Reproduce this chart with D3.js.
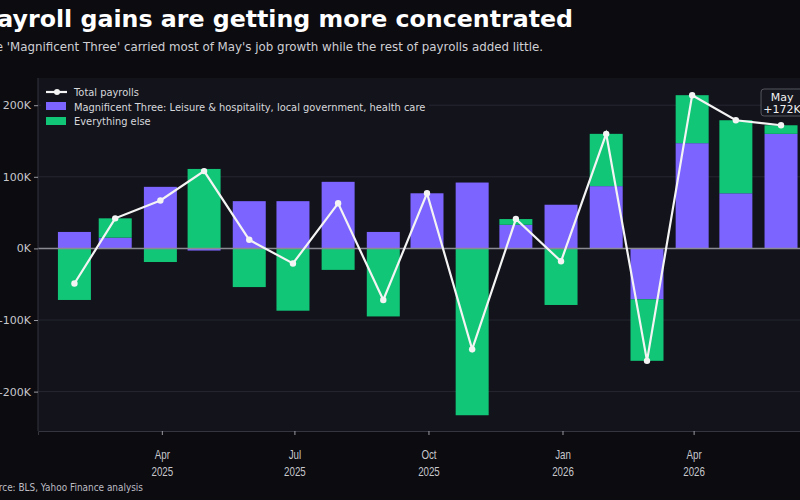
<!DOCTYPE html>
<html>
<head>
<meta charset="utf-8">
<script src="https://cdn.jsdelivr.net/npm/d3@7"></script>
<style>
  body { margin: 0; background: #0b0b10; }
  svg { display: block; font-family: "DejaVu Sans", sans-serif; }
</style>
</head>
<body>
<div id="chart"></div>
<script>
// month-end dates, values in thousands of jobs
const months = ["2025-01-31", "2025-02-28", "2025-03-31", "2025-04-30", "2025-05-31", "2025-06-30",
    "2025-07-31", "2025-08-31", "2025-09-30", "2025-10-31", "2025-11-30", "2025-12-31",
    "2026-01-31", "2026-02-28", "2026-03-31", "2026-04-30", "2026-05-31"];
const magnificent = [23, 15, 86, -3, 66, 66, 93, 23, 77, 92, 33, 61, 87, -71, 147, 77, 160];
const everythingElse = [-72, 27, -19, 111, -54, -87, -30, -95, 0, -233, 8, -79, 73, -86, 67, 102, 12];
const totalPayrolls = [-49, 42, 67, 108, 12, -21, 63, -72, 77, -141, 41, -18, 160, -157, 214, 179, 172];

const yTicks = [-200, -100, 0, 100, 200];
const xTickDates = ["2025-04-01", "2025-07-01", "2025-10-01", "2026-01-01", "2026-04-01"];

const seriesNames = ["Magnificent Three: Leisure & hospitality, local government, health care", "Everything else"];
const colors = {mag: "#7b64ff", rest: "#12c677"};

const width = 800, height = 500;
const plot = {left: 38, right: 816, top: 78, bottom: 431};

const svg = d3.select("#chart").append("svg")
    .attr("width", width)
    .attr("height", height);

svg.append("rect").attr("width", width).attr("height", height).attr("fill", "#0b0b10");

const parse = d3.utcParse("%Y-%m-%d");
const data = months.map((m, i) => ({
    date: parse(m),
    mag: magnificent[i],
    rest: everythingElse[i],
    total: totalPayrolls[i]
}));

const x = d3.scaleUtc()
    .domain([Date.UTC(2025, 0, 6), Date.UTC(2026, 5, 24)])
    .range([plot.left, plot.right]);

const y = d3.scaleLinear()
    .domain([-255, 238])
    .range([plot.bottom, plot.top]);

// plot background
svg.append("rect")
    .attr("x", plot.left).attr("y", plot.top)
    .attr("width", plot.right - plot.left).attr("height", plot.bottom - plot.top)
    .attr("fill", "#12131b");

// grid
svg.append("g")
    .selectAll("line")
    .data(yTicks)
    .join("line")
    .attr("x1", plot.left).attr("x2", plot.right)
    .attr("y1", d => y(d)).attr("y2", d => y(d))
    .attr("stroke", "#262730")
    .attr("stroke-width", 1);

// stacked bars
const stack = d3.stack()
    .keys(["mag", "rest"])
    .offset(d3.stackOffsetDiverging);
const stacked = stack(data);
const barW = 33;

svg.append("g")
    .selectAll("g")
    .data(stacked)
    .join("g")
    .attr("fill", d => colors[d.key])
    .selectAll("rect")
    .data(d => d)
    .join("rect")
    .attr("x", d => x(d.data.date) - barW / 2)
    .attr("width", barW)
    .attr("y", d => y(Math.max(d[0], d[1])))
    .attr("height", d => Math.abs(y(d[0]) - y(d[1])));

// zero line
svg.append("line")
    .attr("x1", plot.left).attr("x2", plot.right)
    .attr("y1", y(0)).attr("y2", y(0))
    .attr("stroke", "#8a8a92")
    .attr("stroke-width", 1.5);

// axes
const yAxis = svg.append("g")
    .attr("transform", `translate(${plot.left},0)`)
    .call(d3.axisLeft(y).tickValues(yTicks).tickSize(4).tickPadding(3)
        .tickFormat(d => `${d}K`));
const xAxis = svg.append("g")
    .attr("transform", `translate(0,${plot.bottom})`)
    .call(d3.axisBottom(x).tickValues(xTickDates.map(parse)).tickSize(4).tickFormat(""));

[yAxis, xAxis].forEach(a => {
    a.select(".domain").attr("stroke", "#34353f");
    a.selectAll(".tick line").attr("stroke", "#9a9aa2");
    a.selectAll("text").attr("fill", "#c8c8cc").attr("font-size", 11)
        .attr("font-family", "DejaVu Sans, sans-serif");
});
yAxis.select(".domain").attr("d", `M0,${plot.top}V${plot.bottom}`);

// two-line date labels, narrowed like the reference's condensed face
xAxis.selectAll(".tick").each(function(d) {
    const t = d3.select(this).append("text")
        .attr("transform", "scale(0.78,1)")
        .attr("fill", "#c8c8cc")
        .attr("font-size", 12.5)
        .attr("text-anchor", "middle");
    t.append("tspan").attr("x", 0).attr("y", 28).text(d3.utcFormat("%b")(d));
    t.append("tspan").attr("x", 0).attr("y", 45).text(d3.utcFormat("%Y")(d));
});

// total line
const line = d3.line()
    .x(d => x(d.date))
    .y(d => y(d.total));

svg.append("path")
    .datum(data)
    .attr("d", line)
    .attr("fill", "none")
    .attr("stroke", "#f4f4f4")
    .attr("stroke-width", 2.2);

svg.append("g")
    .selectAll("circle")
    .data(data)
    .join("circle")
    .attr("cx", d => x(d.date))
    .attr("cy", d => y(d.total))
    .attr("r", 3.2)
    .attr("fill", "#f4f4f4");

// legend
const lg = svg.append("g");
lg.append("rect")
    .attr("x", 41).attr("y", 82).attr("width", 388).attr("height", 46)
    .attr("fill", "#12131b");
lg.append("line")
    .attr("x1", 46).attr("x2", 67).attr("y1", 92).attr("y2", 92)
    .attr("stroke", "#f4f4f4").attr("stroke-width", 2.2);
lg.append("circle").attr("cx", 57).attr("cy", 92).attr("r", 3).attr("fill", "#f4f4f4");
lg.append("rect").attr("x", 46).attr("y", 102).attr("width", 20).attr("height", 8).attr("fill", colors.mag);
lg.append("rect").attr("x", 46).attr("y", 117).attr("width", 20).attr("height", 8).attr("fill", colors.rest);
const legendLabels = ["Total payrolls", ...seriesNames];
lg.selectAll("text")
    .data(legendLabels)
    .join("text")
    .attr("x", 74)
    .attr("y", (d, i) => 96 + i * 14.5)
    .attr("fill", "#d8d8dc")
    .attr("font-size", 9.9)
    .text(d => d);

// annotation on latest month
const last = data[data.length - 1];
const ax = x(last.date);
svg.append("rect")
    .attr("x", ax - 20).attr("y", 89).attr("width", 42).attr("height", 27).attr("rx", 3)
    .attr("fill", "#15161e").attr("stroke", "#55565e").attr("stroke-width", 1);
svg.append("text")
    .attr("x", ax + 1).attr("y", 101).attr("text-anchor", "middle")
    .attr("fill", "#f0f0f0").attr("font-size", 11)
    .text(d3.utcFormat("%b")(last.date));
svg.append("text")
    .attr("x", ax + 1).attr("y", 113).attr("text-anchor", "middle")
    .attr("fill", "#f0f0f0").attr("font-size", 11)
    .text(`+${last.total}K`);

// titles (the reference is cropped on its left edge)
svg.append("text")
    .attr("x", 573).attr("y", 27).attr("text-anchor", "end")
    .attr("fill", "#ffffff").attr("font-size", 23.7).attr("font-weight", "bold")
    .text("Payroll gains are getting more concentrated");
svg.append("text")
    .attr("x", 543).attr("y", 51).attr("text-anchor", "end")
    .attr("fill", "#cfcfd3").attr("font-size", 11.85)
    .text("The 'Magnificent Three' carried most of May's job growth while the rest of payrolls added little.");
svg.append("text")
    .attr("transform", "translate(143,491) scale(0.85,1)")
    .attr("text-anchor", "end")
    .attr("fill", "#bdbdc2").attr("font-size", 10.5)
    .text("Source: BLS, Yahoo Finance analysis");
</script>
</body>
</html>
